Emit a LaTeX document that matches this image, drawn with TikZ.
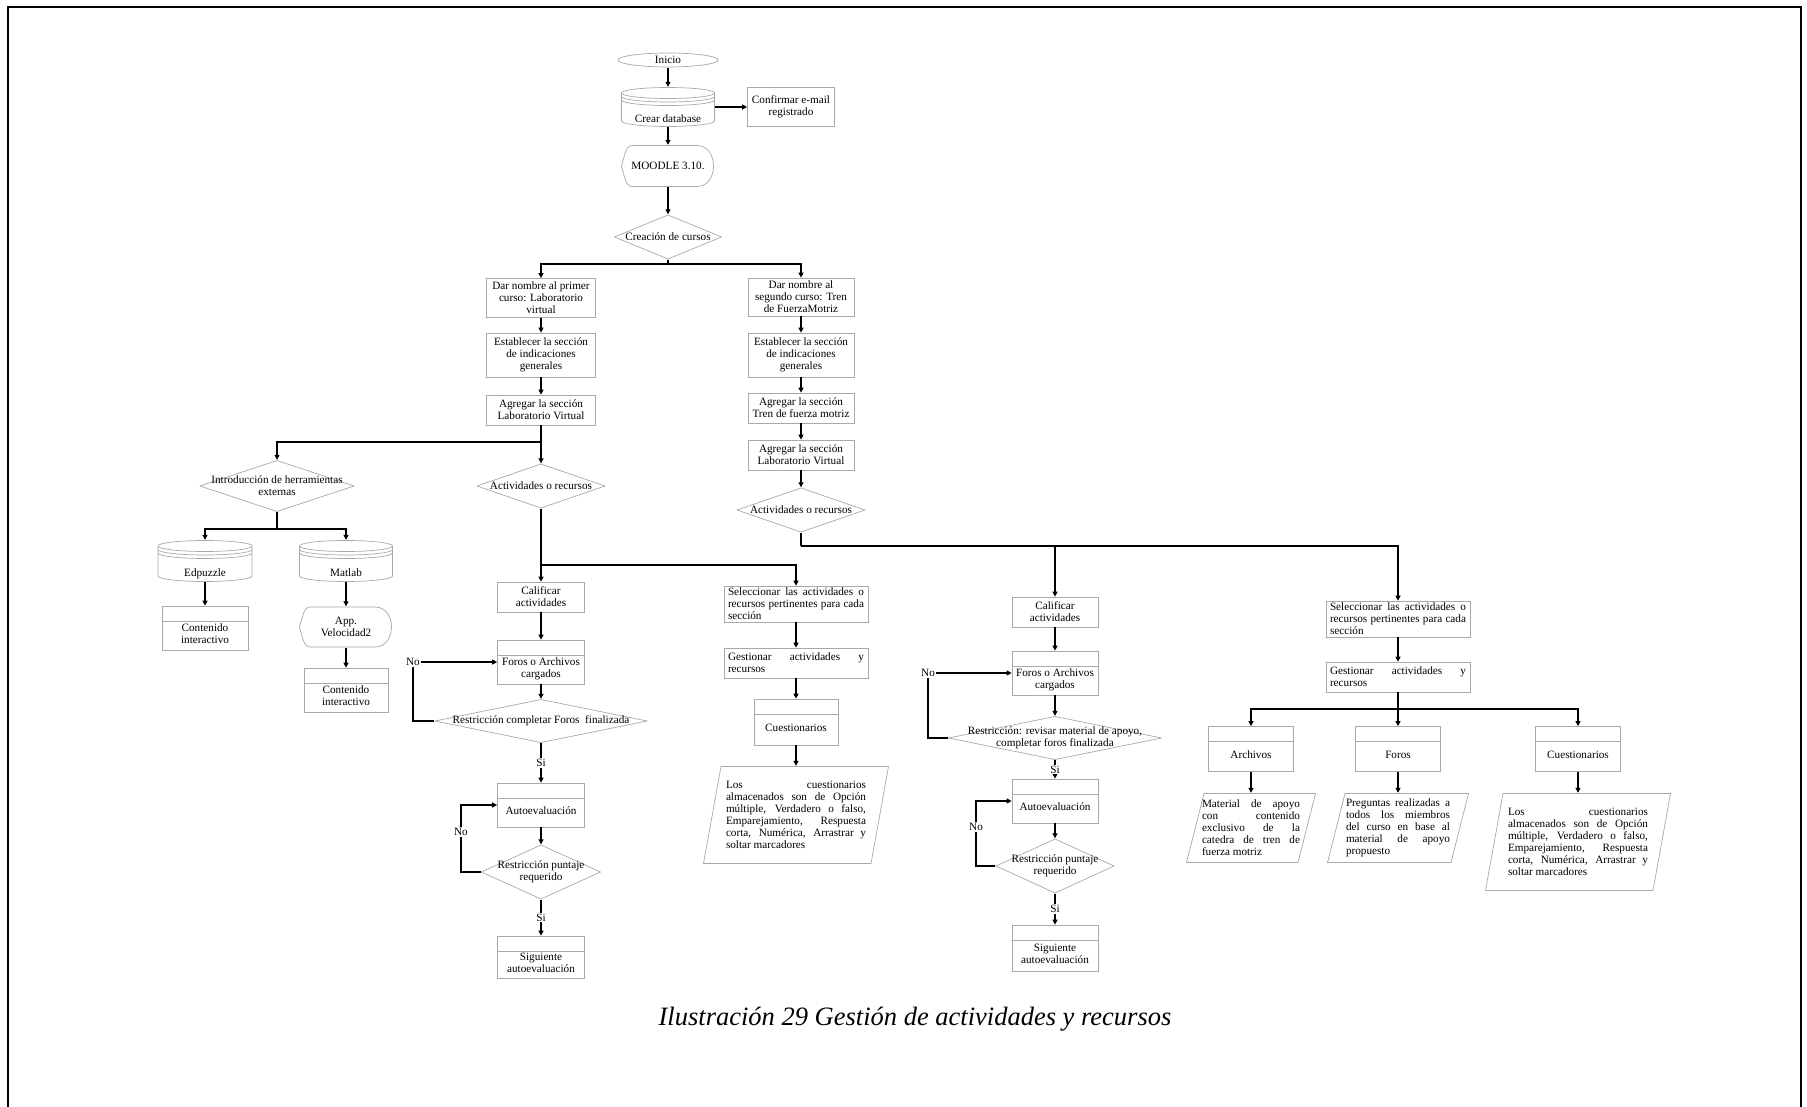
\documentclass[tikz,border=0pt]{standalone}
\usepackage{fontspec}
\setmainfont{Liberation Serif}
\usetikzlibrary{arrows.meta,calc}
\definecolor{shp}{HTML}{A9A9A9}
\hyphenpenalty=10000
\newcommand\dn[2]{\raisebox{-#1}[\height][\depth]{\begin{tabular}{@{}c@{}}#2\end{tabular}}}
\tikzset{
  every node/.style={font=\fontsize{11.2}{12}\selectfont},
  link/.style={line width=1.1pt},
  flow/.style={link, -{Triangle[length=5pt,width=5pt]}},
  outl/.style={draw=shp, line width=0.7pt},
  proc/.style={outl, align=center, inner xsep=3pt, inner ysep=2pt},
  jproc/.style={outl, align=justify, text width=136pt, inner xsep=4pt, inner ysep=2pt},
  hproc/.style={proc, minimum width=86pt, minimum height=44pt,
    path picture={\draw[outl] ([yshift=-15pt]path picture bounding box.north west)
      -- ([yshift=-15pt]path picture bounding box.north east);}},
  decis/.style={fill=white, align=center, inner sep=0pt,
    path picture={\draw[outl] ([yshift=-0.5pt]path picture bounding box.north)
      -- ([xshift=-0.5pt]path picture bounding box.east)
      -- ([yshift=0.5pt]path picture bounding box.south)
      -- ([xshift=0.5pt]path picture bounding box.west) -- cycle;}},
  iodata/.style={fill=white, align=justify, inner ysep=2pt,
    path picture={\draw[outl] ([xshift=18pt,yshift=-0.5pt]path picture bounding box.north west)
      -- ([xshift=-0.5pt,yshift=-0.5pt]path picture bounding box.north east)
      -- ([xshift=-18pt,yshift=0.5pt]path picture bounding box.south east)
      -- ([xshift=0.5pt,yshift=0.5pt]path picture bounding box.south west) -- cycle;}},
  store/.style={fill=white, align=center, inner sep=0pt, minimum width=94pt, minimum height=42pt,
    path picture={\draw[outl] let \p1=(path picture bounding box.north west),
        \p2=(path picture bounding box.south east), \p3=(path picture bounding box.north) in
      (\x1+0.5pt,\y1-6pt) arc[start angle=180, end angle=-180, x radius={\x3-\x1-0.5pt}, y radius=5.5pt]
      (\x1+0.5pt,\y1-9.5pt) arc[start angle=180, end angle=360, x radius={\x3-\x1-0.5pt}, y radius=5.5pt]
      (\x1+0.5pt,\y1-13pt) arc[start angle=180, end angle=360, x radius={\x3-\x1-0.5pt}, y radius=5.5pt]
      (\x1+0.5pt,\y1-6pt) -- (\x1+0.5pt,\y2+6pt)
        arc[start angle=180, end angle=360, x radius={\x3-\x1-0.5pt}, y radius=5.5pt] -- (\x2-0.5pt,\y1-6pt);}},
  disp/.style={fill=white, align=center, inner sep=0pt, minimum width=94pt, minimum height=42pt,
    path picture={\draw[outl] let \p1=(path picture bounding box.north west),
        \p2=(path picture bounding box.south east), \p3=(path picture bounding box.west) in
      (\x1+14pt,\y1-0.5pt) -- (\x2-18pt,\y1-0.5pt)
        .. controls (\x2+4pt,\y1-0.5pt) and (\x2+4pt,\y2+0.5pt) .. (\x2-18pt,\y2+0.5pt)
        -- (\x1+14pt,\y2+0.5pt) .. controls (\x1+6pt,\y2+0.5pt) .. (\x1+0.5pt,\y3)
        .. controls (\x1+6pt,\y1-0.5pt) .. (\x1+14pt,\y1-0.5pt) -- cycle;}},
  termi/.style={fill=white, inner sep=0pt, minimum width=101pt, minimum height=15pt,
    path picture={\draw[outl] let \p1=(path picture bounding box.north east),
        \p2=(path picture bounding box.center) in
      (\p2) ellipse [x radius={\x1-\x2-0.5pt}, y radius={\y1-\y2-0.5pt}];}},
  lbl/.style={fill=white, inner sep=1pt},
}

\begin{document}
\begin{tikzpicture}[x=1pt,y=-1pt]
\useasboundingbox (0,0) rectangle (1807,1107);
\draw[line width=2pt] (8,1107) -- (8,7) -- (1801,7) -- (1801,1107);

% ===================== start =====================
\node[termi] (ini) at (668,60) {Inicio};
\node[store, minimum height=40pt] (db) at (668,107) {\dn{13.5pt}{Crear database}};
\node[proc, minimum width=87pt, minimum height=39pt] (conf) at (791,107) {Confirmar e-mail\\registrado};
\node[disp] (moodle) at (668,166) {MOODLE 3.10.};
\node[decis, minimum width=108pt, minimum height=45pt] (cre) at (668,237) {Creación de cursos};

% ===================== first course =====================
\node[proc, minimum width=109pt, minimum height=39pt] (l1) at (541,298) {Dar nombre al primer\\curso: Laboratorio\\virtual};
\node[proc, minimum width=109pt, minimum height=44pt] (l2) at (541,355) {Establecer la sección\\de indicaciones\\generales};
\node[proc, minimum width=109pt, minimum height=30pt] (l3) at (541,410) {Agregar la sección\\Laboratorio Virtual};
\node[decis, minimum width=155pt, minimum height=52pt] (herr) at (277,486) {Introducción de herramientas\\externas};
\node[decis, minimum width=129pt, minimum height=45pt] (act1) at (541,486) {Actividades o recursos};
\node[store, minimum width=95pt] (edp) at (205,561) {\dn{13.5pt}{Edpuzzle}};
\node[store] (mat) at (346,561) {\dn{13.5pt}{Matlab}};
\node[hproc] (ci1) at (205,628) {\dn{7.5pt}{Contenido\\interactivo}};
\node[disp, minimum height=41pt] (app) at (346,627) {App.\\Velocidad2};
\node[hproc, minimum width=84pt] (ci2) at (346,690) {\dn{7.5pt}{Contenido\\interactivo}};
\node[proc, minimum width=87pt, minimum height=30pt] (cal1) at (541,597) {Calificar\\actividades};
\node[hproc, minimum width=87pt] (for1) at (541,662) {\dn{7.5pt}{Foros o Archivos\\cargados}};
\node[decis, minimum width=213pt, minimum height=44pt] (res1) at (541,721) {Restricción completar Foros~ finalizada};
\node[hproc, minimum width=87pt] (aut1) at (541,805) {\dn{7.5pt}{Autoevaluación}};
\node[decis, minimum width=120pt, minimum height=55pt] (pun1) at (541,872) {Restricción puntaje\\requerido};
\node[hproc, minimum width=87pt, minimum height=42pt] (sig1) at (541,957) {\dn{7.5pt}{Siguiente\\autoevaluación}};
\node[jproc] (sel1) at (796,604) {Seleccionar las actividades o\linebreak recursos pertinentes para cada\linebreak sección};
\node[jproc, minimum height=30pt] (ges1) at (796,663) {Gestionar actividades y\linebreak recursos};
\node[hproc, minimum width=84pt, minimum height=46pt] (cue1) at (796,722) {\dn{7.5pt}{Cuestionarios}};
\node[iodata, text width=140pt, inner xsep=23pt, minimum height=98pt] (qs1) at (796,815)
  {Los cuestionarios\linebreak almacenados son de Opción\linebreak múltiple, Verdadero o falso,\linebreak Emparejamiento, Respuesta\linebreak corta, Numérica, Arrastrar y\linebreak soltar marcadores};

% ===================== second course =====================
\node[proc, minimum width=106pt, minimum height=38pt] (r1) at (801,297) {Dar nombre al\\segundo curso: Tren\\de FuerzaMotriz};
\node[proc, minimum width=106pt, minimum height=44pt] (r2) at (801,355) {Establecer la sección\\de indicaciones\\generales};
\node[proc, minimum width=106pt, minimum height=30pt] (r3) at (801,408) {Agregar la sección\\Tren de fuerza motriz};
\node[proc, minimum width=106pt, minimum height=30pt] (r4) at (801,455) {Agregar la sección\\Laboratorio Virtual};
\node[decis, minimum width=129pt, minimum height=45pt] (act2) at (801,510) {Actividades o recursos};
\node[proc, minimum width=86pt, minimum height=30pt] (cal2) at (1055,612) {Calificar\\actividades};
\node[hproc] (for2) at (1055,673) {\dn{7.5pt}{Foros o Archivos\\cargados}};
\node[decis, minimum width=214pt, minimum height=44pt] (res2) at (1055,738) {Restricción: revisar material de apoyo,\\completar foros finalizada};
\node[hproc] (aut2) at (1055,801) {\dn{7.5pt}{Autoevaluación}};
\node[decis, minimum width=119pt, minimum height=55pt] (pun2) at (1055,866) {Restricción puntaje\\requerido};
\node[hproc, minimum height=46pt] (sig2) at (1055,948) {\dn{7.5pt}{Siguiente\\autoevaluación}};
\node[jproc] (sel2) at (1398,619) {Seleccionar las actividades o\linebreak recursos pertinentes para cada\linebreak sección};
\node[jproc, minimum height=30pt] (ges2) at (1398,677) {Gestionar actividades y\linebreak recursos};
\node[hproc, minimum width=85pt, minimum height=45pt] (arch) at (1251,749) {\dn{7.5pt}{Archivos}};
\node[hproc, minimum width=85pt, minimum height=45pt] (foro) at (1398,749) {\dn{7.5pt}{Foros}};
\node[hproc, minimum width=85pt, minimum height=45pt] (cue2) at (1578,749) {\dn{7.5pt}{Cuestionarios}};
\node[iodata, text width=98pt, inner xsep=16pt, minimum height=70pt] (apoyo) at (1251,828)
  {Material de apoyo\linebreak con contenido\linebreak exclusivo de la\linebreak catedra de tren de\linebreak fuerza motriz};
\node[iodata, text width=104pt, inner xsep=19pt, minimum height=70pt] (preg) at (1398,828)
  {Preguntas realizadas a\linebreak todos los miembros\linebreak del curso en base al\linebreak material de apoyo\linebreak propuesto};
\node[iodata, text width=140pt, inner xsep=23pt, minimum height=98pt] (qs2) at (1578,842)
  {Los cuestionarios\linebreak almacenados son de Opción\linebreak múltiple, Verdadero o falso,\linebreak Emparejamiento, Respuesta\linebreak corta, Numérica, Arrastrar y\linebreak soltar marcadores};

% ===================== connectors =====================
\draw[flow] (ini) -- (db);
\draw[flow] (db) -- (conf);
\draw[flow] (db) -- (moodle);
\draw[flow] (moodle) -- (cre);
\coordinate (j0) at (668,264);
\draw[link] (cre) -- (j0);
\draw[flow] (j0) -| (l1);
\draw[flow] (j0) -| (r1);

\draw[flow] (l1) -- (l2);
\draw[flow] (l2) -- (l3);
\coordinate (j1) at (541,442);
\draw[flow] (l3) -- (act1);
\draw[flow] (j1) -| (herr);
\coordinate (j2) at (277,529);
\draw[link] (herr) -- (j2);
\draw[flow] (j2) -| (edp);
\draw[flow] (j2) -| (mat);
\draw[flow] (edp) -- (ci1);
\draw[flow] (mat) -- (app);
\draw[flow] (app) -- (ci2);
\coordinate (j3) at (541,565);
\draw[flow] (act1) -- (cal1);
\draw[flow] (j3) -| (sel1);
\draw[flow] (cal1) -- (for1);
\draw[flow] (for1) -- (res1);
\draw[flow] (res1) -- node[lbl] {Si} (aut1);
\coordinate (k1) at (413,721);
\draw[flow] (res1) -- (k1) |- node[lbl, pos=0.5] {No} (for1);
\draw[flow] (aut1) -- (pun1);
\coordinate (k2) at (461,872);
\draw[flow] (pun1) -- (k2) |- node[lbl, pos=0.3] {No} (aut1);
\draw[flow] (pun1) -- node[lbl] {Si} (sig1);
\draw[flow] (sel1) -- (ges1);
\draw[flow] (ges1) -- (cue1);
\draw[flow] (cue1) -- (qs1);

\draw[flow] (r1) -- (r2);
\draw[flow] (r2) -- (r3);
\draw[flow] (r3) -- (r4);
\draw[flow] (r4) -- (act2);
\coordinate (j4) at (801,546);
\draw[link] (act2) -- (j4);
\draw[flow] (j4) -| (cal2);
\draw[flow] (j4) -| (sel2);
\draw[flow] (cal2) -- (for2);
\draw[flow] (for2) -- (res2);
\draw[flow] (res2) -- node[lbl] {Si} (aut2);
\coordinate (k3) at (928,738);
\draw[flow] (res2) -- (k3) |- node[lbl, pos=0.5] {No} (for2);
\draw[flow] (aut2) -- (pun2);
\coordinate (k4) at (976,866);
\draw[flow] (pun2) -- (k4) |- node[lbl, pos=0.3] {No} (aut2);
\draw[flow] (pun2) -- node[lbl] {Si} (sig2);
\draw[flow] (sel2) -- (ges2);
\coordinate (j5) at (1398,709);
\draw[link] (ges2) -- (j5);
\draw[flow] (j5) -| (arch);
\draw[flow] (j5) -- (foro);
\draw[flow] (j5) -| (cue2);
\draw[flow] (arch) -- (apoyo);
\draw[flow] (foro) -- (preg);
\draw[flow] (cue2) -- (qs2);

\node[font=\fontsize{26.5}{30}\selectfont\itshape] (cap) at (915,1019) {Ilustración 29 Gestión de actividades y recursos};
\end{tikzpicture}
\end{document}
